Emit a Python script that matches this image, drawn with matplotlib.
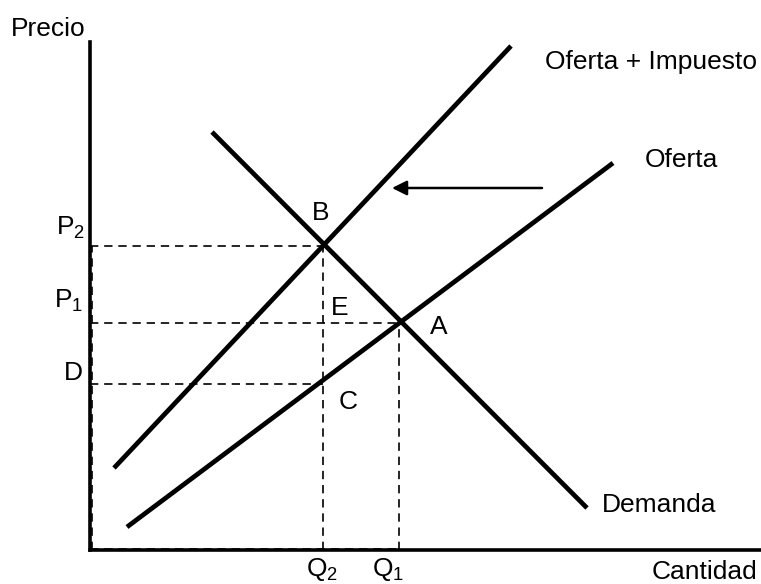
import matplotlib
matplotlib.use('Agg')
import matplotlib.pyplot as plt

plt.rcParams.update({
    'font.family': ['Liberation Sans', 'DejaVu Sans'],
    'mathtext.fontset': 'custom',
    'mathtext.rm': 'Liberation Sans',
    'mathtext.it': 'Liberation Sans',
    'font.size': 19,
})

# ── Curve endpoints (quantity, price) ────────────────────────────────────────
supply_tax_q = [24, 421]
supply_tax_p = [82, 504]
supply_q = [37, 523]
supply_p = [23, 387]
demand_q = [122, 497]
demand_p = [418, 42]

# Reference levels marked with dashed guides
q_levels = {'Q2': 233, 'Q1': 309}
p_levels = {'P2': 304, 'P1': 227, 'D': 166}

# Arrow showing the supply shift
shift_q = [452, 302]
shift_p = [362, 362]

X_MAX, Y_MAX = 671, 508

fig = plt.figure(figsize=(7.61, 5.84), dpi=100)
ax = fig.add_axes([90 / 761, 34 / 584, X_MAX / 761, Y_MAX / 584])
ax.set_xlim(0, X_MAX)
ax.set_ylim(0, Y_MAX)
ax.set_xticks([])
ax.set_yticks([])
for s in ('top', 'right'):
    ax.spines[s].set_visible(False)
for s in ('left', 'bottom'):
    ax.spines[s].set_linewidth(2.6)

q1, q2 = q_levels['Q1'], q_levels['Q2']
p1, p2, pd_ = p_levels['P1'], p_levels['P2'], p_levels['D']

# dashed guide lines
dash = dict(color='black', linestyle=(0, (5, 3.5)), linewidth=1.2, clip_on=False)
ax.plot([0, q2], [p2, p2], **dash)
ax.plot([0, q1], [p1, p1], **dash)
ax.plot([0, q2], [pd_, pd_], **dash)
ax.plot([q2, q2], [0, p2], **dash)
ax.plot([q1, q1], [0, p1], **dash)
ax.plot([2, 2], [0, p2], **dash)
ax.plot([0, q1], [1.5, 1.5], **dash)

# curves
lw = 3.4
for q, p in [(supply_tax_q, supply_tax_p), (supply_q, supply_p), (demand_q, demand_p)]:
    ax.plot(q, p, color='black', lw=lw, solid_capstyle='butt')

ax.annotate('', xy=(shift_q[1], shift_p[1]), xytext=(shift_q[0], shift_p[0]),
            arrowprops=dict(arrowstyle='-|>', color='black', lw=1.8,
                            mutation_scale=22, shrinkA=0, shrinkB=0))

kw = dict(clip_on=False, va='baseline')
ax.text(-42, 514, 'Precio', ha='center', **kw)
ax.text(667, -29, 'Cantidad', ha='right', **kw)
ax.text(455, 481, 'Oferta + Impuesto', ha='left', **kw)
ax.text(555, 383, 'Oferta', ha='left', **kw)
ax.text(512, 38, 'Demanda', ha='left', **kw)

ax.text(q2 - 1, -26, r'Q$_\mathregular{2}$', ha='center', **kw)
ax.text(q1 - 11, -26, r'Q$_\mathregular{1}$', ha='center', **kw)
ax.text(-5, 315, r'P$_\mathregular{2}$', ha='right', **kw)
ax.text(-7, 242, r'P$_\mathregular{1}$', ha='right', **kw)
ax.text(-7, 170, 'D', ha='right', **kw)

ax.text(231, 330, 'B', ha='center', va='baseline')
ax.text(250, 235, 'E', ha='center', va='baseline')
ax.text(349, 216, 'A', ha='center', va='baseline')
ax.text(258, 141, 'C', ha='center', va='baseline')

fig.savefig('out.png', dpi=100)
